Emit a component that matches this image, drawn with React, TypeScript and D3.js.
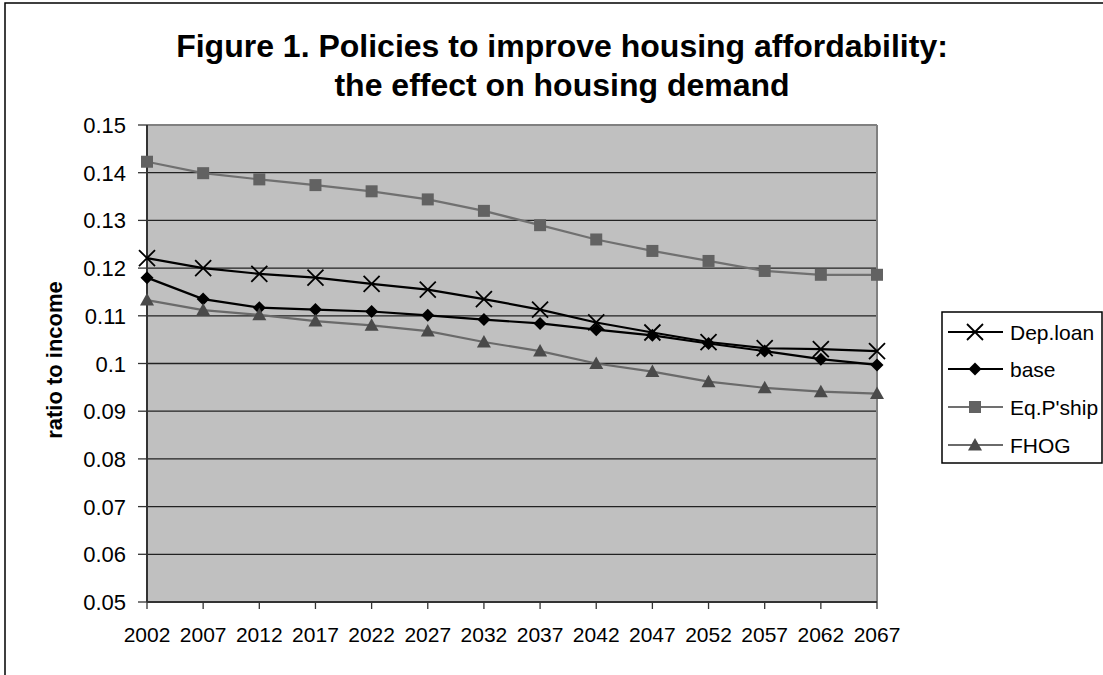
import React from "react";
import * as d3 from "d3";

const years = ["2002","2007","2012","2017","2022","2027","2032","2037","2042","2047","2052","2057","2062","2067"];
const depLoan = [0.1221,0.1200,0.1188,0.1180,0.1167,0.1155,0.1135,0.1113,0.1086,0.1065,0.1045,0.1032,0.1030,0.1026];
const base = [0.1180,0.1135,0.1117,0.1113,0.1109,0.1101,0.1092,0.1084,0.1071,0.1059,0.1042,0.1026,0.1009,0.0997];
const eqPship = [0.1423,0.1399,0.1386,0.1374,0.1361,0.1344,0.1320,0.1290,0.1260,0.1236,0.1215,0.1194,0.1186,0.1186];
const fhog = [0.1133,0.1112,0.1102,0.1089,0.1080,0.1068,0.1045,0.1026,0.1000,0.0983,0.0962,0.0949,0.0941,0.0937];
const yTicks = [0.05,0.06,0.07,0.08,0.09,0.1,0.11,0.12,0.13,0.14,0.15];
const seriesNames = ["Dep.loan","base","Eq.P'ship","FHOG"];

type Marker = "x" | "diamond" | "square" | "triangle";
const series: { name: string; values: number[]; line: string; fill: string; marker: Marker }[] = [
  { name: seriesNames[0], values: depLoan, line: "#000", fill: "#000", marker: "x" },
  { name: seriesNames[1], values: base, line: "#000", fill: "#000", marker: "diamond" },
  { name: seriesNames[2], values: eqPship, line: "#707070", fill: "#626262", marker: "square" },
  { name: seriesNames[3], values: fhog, line: "#6a6a6a", fill: "#4a4a4a", marker: "triangle" },
];

const FONT = "'Liberation Sans', Arial, sans-serif";

function MarkerShape({ type, x, y, fill }: { type: Marker; x: number; y: number; fill: string }) {
  if (type === "x") {
    const s = 8;
    return (
      <path d={`M${x - s},${y - s}L${x + s},${y + s}M${x - s},${y + s}L${x + s},${y - s}`} stroke="#000" strokeWidth={1.8} fill="none" />
    );
  }
  if (type === "diamond") {
    const s = 6.5;
    return <path d={`M${x},${y - s}L${x + s},${y}L${x},${y + s}L${x - s},${y}Z`} fill={fill} />;
  }
  if (type === "square") {
    const s = 6;
    return <rect x={x - s} y={y - s} width={2 * s} height={2 * s} fill={fill} />;
  }
  const w = 7;
  return <path d={`M${x},${y - 7}L${x + w},${y + 5.5}L${x - w},${y + 5.5}Z`} fill={fill} />;
}

export default function App() {
  const left = 147, right = 877, top = 125, bottom = 602;
  const x = d3.scalePoint<string>().domain(years).range([left, right]);
  const y = d3.scaleLinear().domain([0.05, 0.15]).range([bottom, top]);
  const line = d3.line<number>().x((_, i) => x(years[i]) as number).y((d) => y(d));

  const legX = 942, legY = 312, legW = 160, legH = 151;
  const rowY = [332, 369, 407, 445];

  return (
    <svg width={1103} height={675} style={{ position: "fixed", left: 0, top: 0, background: "#fff" }} fontFamily={FONT}>
      <rect x={0} y={0} width={1103} height={675} fill="#fff" />
      <rect x={5} y={3} width={1110} height={700} fill="none" stroke="#000" strokeWidth={1.5} />
      <text x={562} y={57} textAnchor="middle" fontSize={32} fontWeight="bold">
        Figure 1. Policies to improve housing affordability:
      </text>
      <text x={562} y={96} textAnchor="middle" fontSize={32} fontWeight="bold">
        the effect on housing demand
      </text>

      <rect x={left} y={top} width={right - left} height={bottom - top} fill="#c0c0c0" />
      {yTicks.slice(1, -1).map((t) => (
        <line key={t} x1={left} x2={right} y1={y(t)} y2={y(t)} stroke="#222" strokeWidth={1.3} />
      ))}
      <line x1={left} x2={right} y1={top} y2={top} stroke="#808080" strokeWidth={2} />
      <line x1={right} x2={right} y1={top} y2={bottom} stroke="#808080" strokeWidth={2} />
      <line x1={left} x2={left} y1={top} y2={bottom} stroke="#333" strokeWidth={2} />
      <line x1={left} x2={right} y1={bottom} y2={bottom} stroke="#333" strokeWidth={2} />

      {yTicks.map((t) => (
        <g key={t}>
          <line x1={left - 9} x2={left} y1={y(t)} y2={y(t)} stroke="#333" strokeWidth={1.3} />
          <text x={126} y={y(t) + 8} textAnchor="end" fontSize={22}>
            {d3.format("")(t)}
          </text>
        </g>
      ))}
      {years.map((yr) => (
        <g key={yr}>
          <line x1={x(yr)} x2={x(yr)} y1={bottom} y2={bottom + 7} stroke="#333" strokeWidth={1.3} />
          <text x={x(yr)} y={642} textAnchor="middle" fontSize={21}>
            {yr}
          </text>
        </g>
      ))}
      <text transform="translate(62,360) rotate(-90)" textAnchor="middle" fontSize={22} fontWeight="bold">
        ratio to income
      </text>

      {series.map((s) => (
        <g key={s.name}>
          <path d={line(s.values) || ""} fill="none" stroke={s.line} strokeWidth={2.2} />
          {s.values.map((v, i) => (
            <MarkerShape key={i} type={s.marker} x={x(years[i]) as number} y={y(v)} fill={s.fill} />
          ))}
        </g>
      ))}

      <rect x={legX} y={legY} width={legW} height={legH} fill="#fff" stroke="#000" strokeWidth={1.5} />
      {series.map((s, i) => (
        <g key={s.name}>
          <line x1={948} x2={1003} y1={rowY[i]} y2={rowY[i]} stroke={s.line} strokeWidth={2} />
          <MarkerShape type={s.marker} x={975} y={rowY[i]} fill={s.fill} />
          <text x={1010} y={rowY[i] + 7.5} fontSize={21}>
            {s.name}
          </text>
        </g>
      ))}
    </svg>
  );
}
